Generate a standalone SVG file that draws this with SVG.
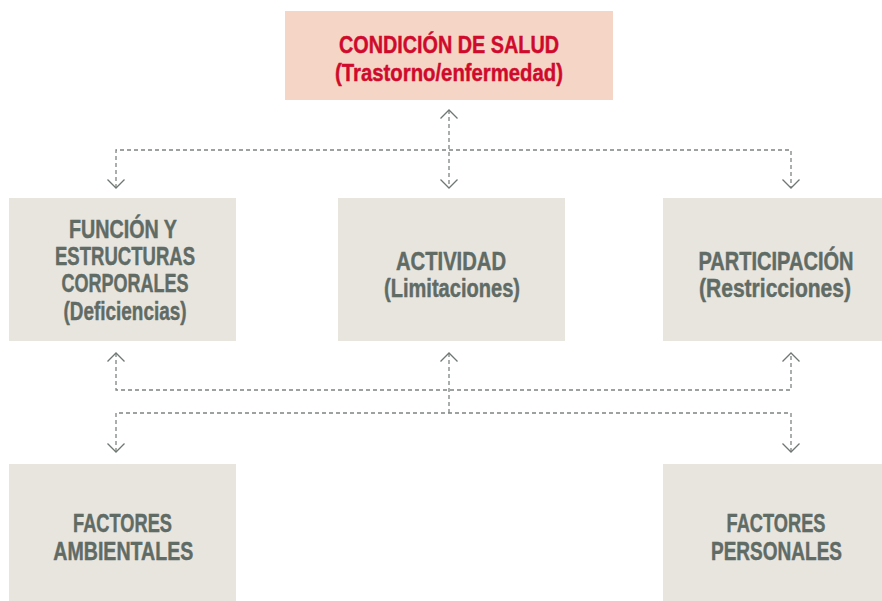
<svg xmlns="http://www.w3.org/2000/svg" width="882" height="601" viewBox="0 0 882 601">
<style>
.box{fill:#e8e5df}
.top{fill:#f5d6c6}
text{font-family:"Liberation Sans Narrow","Liberation Sans",Arial,sans-serif;font-weight:bold;font-size:26px;text-anchor:middle;fill:#606b65;stroke:#606b65;stroke-width:0.45}
text.red{fill:#cf0a2c;stroke:#cf0a2c;font-size:24.5px}
.c{fill:none;stroke:#7d8480;stroke-width:1.3;stroke-dasharray:4 3}
</style>
<defs>
<marker id="chev" viewBox="-12 -12 24 24" markerWidth="24" markerHeight="24" refX="0" refY="0" orient="auto-start-reverse" markerUnits="userSpaceOnUse">
<path d="M-8.5,-8.5 L0,0 L-8.5,8.5" fill="none" stroke="#6f7773" stroke-width="1.3"/>
</marker>
</defs>
<rect width="882" height="601" fill="#ffffff"/>
<g id="connectors">
<path class="c" d="M449,110 L449,188" marker-start="url(#chev)" marker-end="url(#chev)"/>
<path class="c" d="M116,188 L116,150 L791,150 L791,188" marker-start="url(#chev)" marker-end="url(#chev)"/>
<path class="c" d="M116,353 L116,390 L791,390 L791,353" marker-start="url(#chev)" marker-end="url(#chev)"/>
<path class="c" d="M449,353 L449,413" marker-start="url(#chev)"/>
<path class="c" d="M116,452 L116,413 L791,413 L791,452" marker-start="url(#chev)" marker-end="url(#chev)"/>
</g>
<g id="condicion">
<rect class="top" x="285" y="11" width="328" height="89"/>
<text class="red" x="449" y="53.3" textLength="220" lengthAdjust="spacingAndGlyphs">CONDICIÓN DE SALUD</text>
<text class="red" x="449" y="80.5" textLength="228" lengthAdjust="spacingAndGlyphs">(Trastorno/enfermedad)</text>
</g>
<g id="funcion">
<rect class="box" x="9" y="198" width="227" height="143"/>
<text x="123" y="237.5" textLength="108" lengthAdjust="spacingAndGlyphs">FUNCIÓN Y</text>
<text x="125" y="265" textLength="140" lengthAdjust="spacingAndGlyphs">ESTRUCTURAS</text>
<text x="125" y="292.3" textLength="127" lengthAdjust="spacingAndGlyphs">CORPORALES</text>
<text x="125" y="320" textLength="123" lengthAdjust="spacingAndGlyphs">(Deficiencias)</text>
</g>
<g id="actividad">
<rect class="box" x="338" y="198" width="227" height="143"/>
<text x="451" y="270" textLength="110" lengthAdjust="spacingAndGlyphs">ACTIVIDAD</text>
<text x="452" y="297" textLength="136" lengthAdjust="spacingAndGlyphs">(Limitaciones)</text>
</g>
<g id="participacion">
<rect class="box" x="663" y="198" width="219" height="143"/>
<text x="776" y="270" textLength="155" lengthAdjust="spacingAndGlyphs">PARTICIPACIÓN</text>
<text x="775" y="297" textLength="152" lengthAdjust="spacingAndGlyphs">(Restricciones)</text>
</g>
<g id="ambientales">
<rect class="box" x="9" y="464" width="227" height="137"/>
<text x="122.5" y="531.5" textLength="99" lengthAdjust="spacingAndGlyphs">FACTORES</text>
<text x="123.3" y="559.5" textLength="140" lengthAdjust="spacingAndGlyphs">AMBIENTALES</text>
</g>
<g id="personales">
<rect class="box" x="663" y="464" width="219" height="137"/>
<text x="776" y="531.5" textLength="99" lengthAdjust="spacingAndGlyphs">FACTORES</text>
<text x="776.5" y="559.5" textLength="131" lengthAdjust="spacingAndGlyphs">PERSONALES</text>
</g>
</svg>
